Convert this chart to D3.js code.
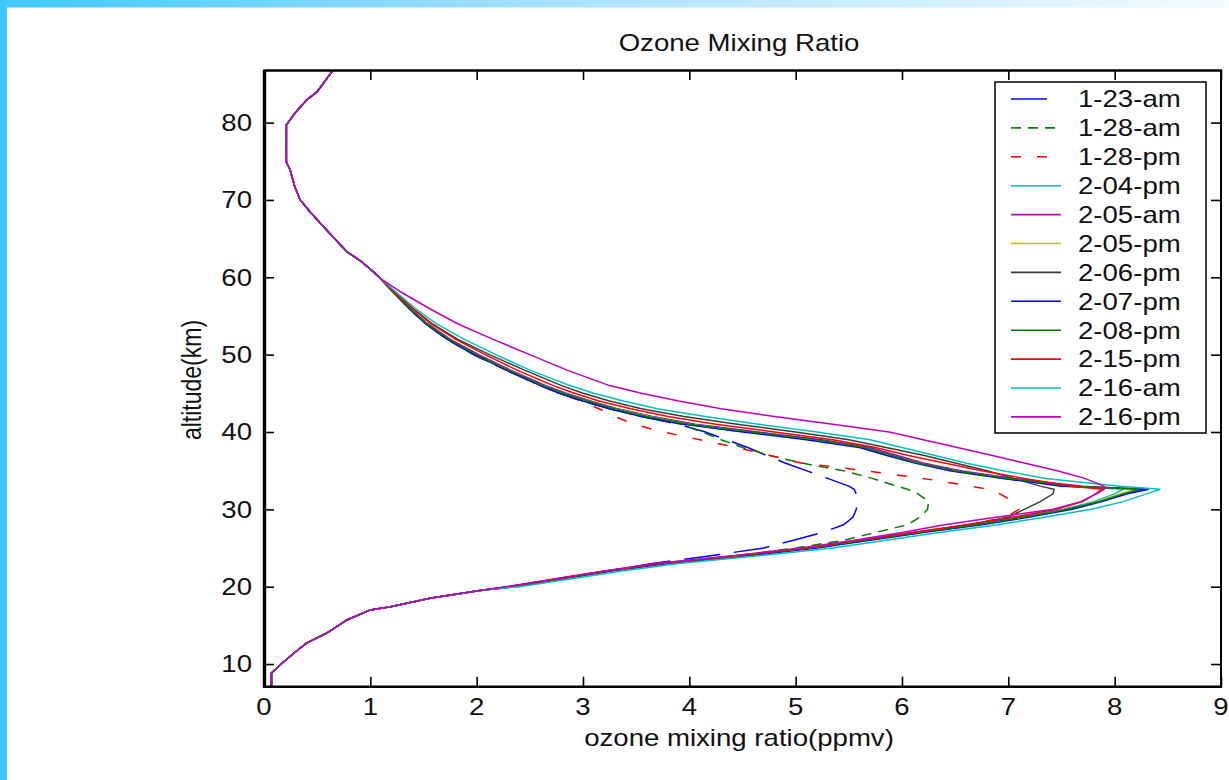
<!DOCTYPE html>
<html>
<head>
<meta charset="utf-8">
<script src="https://cdn.jsdelivr.net/npm/d3@7"></script>
<style>
  html, body { margin: 0; padding: 0; background: #ffffff; }
  svg { display: block; }
</style>
</head>
<body>
<svg id="chart" width="1229" height="780"></svg>
<script>
// ---- Ozone profile data (ppmv vs km) ----
// Troposphere / lower stratosphere, common to every sounding
const altLow   = [7.07, 8.84, 10.1, 11.4, 12.7, 14.0, 15.7, 17.0, 17.4, 18.5, 19.5];
const ozoneLow = [0.07, 0.07, 0.17, 0.28, 0.40, 0.59, 0.78, 1.00, 1.19, 1.56, 2.03];

// Stratospheric levels where the soundings differ
const altMid = [20, 21, 22, 23, 24, 25, 26, 27, 28, 29, 30, 31, 32, 32.6, 33, 34, 35, 36, 37,
                38, 39, 40, 41, 42, 43, 44, 45, 46, 48, 50, 52, 54, 56, 58];

// Mesosphere, common to every sounding
const altHigh   = [59.9, 60.7, 62.2, 63.3, 65.2, 67.0, 68.5, 70.0, 71.7, 73.9, 74.9, 79.7, 81.2, 82.9, 84.0, 86.8];
const ozoneHigh = [1.09, 1.03, 0.90, 0.78, 0.65, 0.53, 0.43, 0.34, 0.29, 0.245, 0.21, 0.21, 0.29, 0.40, 0.50, 0.65];

const seriesNames = ["1-23-am", "1-28-am", "1-28-pm", "2-04-pm", "2-05-am", "2-05-pm",
                     "2-06-pm", "2-07-pm", "2-08-pm", "2-15-pm", "2-16-am", "2-16-pm"];

const ozone_1_23_am = [2.33, 2.78, 3.22, 3.65, 4.20, 4.70, 4.98, 5.25, 5.45, 5.54, 5.57, 5.58, 5.57, 5.55, 5.50, 5.30, 5.10, 4.90, 4.72, 4.55, 4.35, 4.15, 3.90, 3.55, 3.25, 3.00, 2.78, 2.60, 2.28, 1.97, 1.72, 1.52, 1.36, 1.22];
const ozone_1_28_am = [2.33, 2.78, 3.22, 3.75, 4.45, 5.00, 5.45, 5.75, 6.05, 6.17, 6.24, 6.25, 6.15, 6.05, 5.95, 5.72, 5.45, 5.05, 4.75, 4.50, 4.30, 4.12, 3.92, 3.55, 3.25, 3.00, 2.78, 2.60, 2.28, 1.97, 1.72, 1.52, 1.36, 1.22];
const ozone_1_28_pm = [2.32, 2.77, 3.22, 3.73, 4.48, 5.12, 5.62, 6.12, 6.62, 6.98, 7.10, 7.05, 6.92, 6.80, 6.65, 6.20, 5.65, 5.05, 4.75, 4.45, 4.10, 3.75, 3.48, 3.30, 3.15, 2.98, 2.78, 2.60, 2.28, 1.97, 1.72, 1.52, 1.36, 1.22];
const ozone_2_04_pm = [2.33, 2.78, 3.22, 3.75, 4.50, 5.15, 5.65, 6.15, 6.68, 7.12, 7.52, 7.80, 8.00, 8.08, 7.60, 7.00, 6.50, 6.17, 5.90, 5.65, 5.20, 4.60, 4.05, 3.65, 3.32, 3.06, 2.84, 2.64, 2.31, 2.01, 1.74, 1.54, 1.37, 1.22];
const ozone_2_05_am = [2.30, 2.75, 3.20, 3.70, 4.45, 5.10, 5.60, 6.10, 6.65, 7.10, 7.55, 7.85, 8.10, 8.28, 7.70, 7.05, 6.55, 6.20, 5.95, 5.70, 5.25, 4.65, 4.05, 3.65, 3.32, 3.07, 2.84, 2.65, 2.32, 2.02, 1.75, 1.54, 1.37, 1.22];
const ozone_2_05_pm = [2.32, 2.77, 3.22, 3.75, 4.50, 5.15, 5.65, 6.15, 6.70, 7.15, 7.55, 7.83, 8.05, 8.20, 7.55, 6.95, 6.45, 6.15, 5.88, 5.62, 5.15, 4.55, 4.00, 3.62, 3.30, 3.05, 2.82, 2.62, 2.30, 1.99, 1.73, 1.53, 1.36, 1.22];
const ozone_2_06_pm = [2.30, 2.75, 3.20, 3.72, 4.47, 5.12, 5.62, 6.15, 6.65, 7.00, 7.15, 7.30, 7.42, 7.43, 7.30, 7.05, 6.80, 6.50, 6.20, 5.85, 5.50, 5.00, 4.45, 3.95, 3.55, 3.25, 3.00, 2.80, 2.45, 2.12, 1.82, 1.58, 1.40, 1.24];
const ozone_2_07_pm = [2.35, 2.80, 3.25, 3.80, 4.55, 5.20, 5.70, 6.20, 6.75, 7.20, 7.60, 7.88, 8.12, 8.32, 7.50, 6.95, 6.45, 6.12, 5.85, 5.60, 5.10, 4.50, 3.95, 3.55, 3.25, 3.00, 2.78, 2.60, 2.28, 1.98, 1.72, 1.52, 1.36, 1.22];
const ozone_2_08_pm = [2.33, 2.78, 3.22, 3.75, 4.50, 5.15, 5.65, 6.15, 6.70, 7.15, 7.55, 7.85, 8.08, 8.24, 7.60, 7.00, 6.50, 6.15, 5.90, 5.65, 5.20, 4.60, 4.00, 3.60, 3.30, 3.05, 2.82, 2.63, 2.30, 2.00, 1.74, 1.53, 1.37, 1.22];
const ozone_2_15_pm = [2.30, 2.75, 3.20, 3.72, 4.45, 5.10, 5.60, 6.10, 6.60, 7.05, 7.45, 7.70, 7.82, 7.88, 7.60, 7.15, 6.75, 6.40, 6.05, 5.75, 5.35, 4.80, 4.25, 3.80, 3.45, 3.15, 2.92, 2.72, 2.38, 2.08, 1.80, 1.57, 1.39, 1.23];
const ozone_2_16_am = [2.40, 2.88, 3.35, 3.90, 4.65, 5.35, 5.85, 6.35, 6.90, 7.35, 7.78, 8.08, 8.30, 8.43, 8.05, 7.35, 6.95, 6.60, 6.30, 6.00, 5.70, 5.20, 4.65, 4.15, 3.70, 3.38, 3.10, 2.88, 2.50, 2.18, 1.88, 1.62, 1.42, 1.25];
const ozone_2_16_pm = [2.28, 2.72, 3.18, 3.68, 4.40, 5.05, 5.55, 6.00, 6.40, 6.90, 7.42, 7.68, 7.83, 7.90, 7.90, 7.72, 7.46, 7.15, 6.84, 6.52, 6.20, 5.88, 5.35, 4.80, 4.30, 3.90, 3.55, 3.25, 2.85, 2.50, 2.15, 1.82, 1.55, 1.30];

const xTicks = [0, 1, 2, 3, 4, 5, 6, 7, 8, 9];
const yTicks = [10, 20, 30, 40, 50, 60, 70, 80];

const titleText  = "Ozone Mixing Ratio";
const xAxisLabel = "ozone mixing ratio(ppmv)";
const yAxisLabel = "altitude(km)";

// ---- styles ----
const seriesColors = ["#0000ff", "#008000", "#ff0000", "#00bfbf", "#bf00bf", "#bfbf00",
                      "#3c3c3c", "#0000ff", "#008000", "#ff0000", "#00bfbf", "#bf00bf"];
const seriesDash = ["36,14", "10,7", "10,16", null, null, null, null, null, null, null, null, null];

const midValues = [ozone_1_23_am, ozone_1_28_am, ozone_1_28_pm, ozone_2_04_pm, ozone_2_05_am,
                   ozone_2_05_pm, ozone_2_06_pm, ozone_2_07_pm, ozone_2_08_pm, ozone_2_15_pm,
                   ozone_2_16_am, ozone_2_16_pm];

// full profile of each sounding: shared low part + own middle part + shared high part
const profiles = seriesNames.map((name, i) => {
  const alts = altLow.concat(altMid, altHigh);
  const vals = ozoneLow.concat(midValues[i], ozoneHigh);
  return { name, color: seriesColors[i], dash: seriesDash[i],
           points: alts.map((a, k) => ({ alt: a, o3: vals[k] })) };
});

// ---- layout ----
const svg = d3.select("#chart");
const plot = { left: 264, right: 1221, top: 70, bottom: 686.7 };

const x = d3.scaleLinear().domain([0, 9]).range([plot.left, plot.right]);
const y = d3.scaleLinear().domain([7.07, 86.8]).range([plot.bottom, plot.top]);

const FONT = "'Liberation Sans', Arial, sans-serif";
const STRETCH = 1.2;

// page frame: cyan bar on the left, fading bar on top
const defs = svg.append("defs");
const grad = defs.append("linearGradient").attr("id", "topbar").attr("x1", "0").attr("x2", "1");
grad.append("stop").attr("offset", "0").attr("stop-color", "#3fc8ff");
grad.append("stop").attr("offset", "0.45").attr("stop-color", "#a8e2ff");
grad.append("stop").attr("offset", "1").attr("stop-color", "#f4fbff");
svg.append("rect").attr("x", 0).attr("y", 0).attr("width", 1229).attr("height", 7.5).attr("fill", "url(#topbar)");
svg.append("rect").attr("x", 0).attr("y", 0).attr("width", 7).attr("height", 780).attr("fill", "#3fc8ff");

defs.append("clipPath").attr("id", "plotclip").append("rect")
  .attr("x", plot.left).attr("y", plot.top)
  .attr("width", plot.right - plot.left).attr("height", plot.bottom - plot.top);

// profiles
const line = d3.line().x(d => x(d.o3)).y(d => y(d.alt));
svg.append("g").attr("clip-path", "url(#plotclip)")
  .selectAll("path").data(profiles).join("path")
  .attr("d", d => line(d.points))
  .attr("fill", "none")
  .attr("stroke", d => d.color)
  .attr("stroke-width", 1.5)
  .attr("stroke-dasharray", d => d.dash);

// inward ticks on all four sides
svg.append("g").attr("transform", `translate(0,${plot.bottom})`)
  .call(d3.axisBottom(x).tickValues(xTicks).tickSize(-10).tickFormat(""))
  .call(g => g.select(".domain").remove());
svg.append("g").attr("transform", `translate(0,${plot.top})`)
  .call(d3.axisTop(x).tickValues(xTicks).tickSize(-10).tickFormat(""))
  .call(g => g.select(".domain").remove());
svg.append("g").attr("transform", `translate(${plot.left},0)`)
  .call(d3.axisLeft(y).tickValues(yTicks).tickSize(-10).tickFormat(""))
  .call(g => g.select(".domain").remove());
svg.append("g").attr("transform", `translate(${plot.right},0)`)
  .call(d3.axisRight(y).tickValues(yTicks).tickSize(-10).tickFormat(""))
  .call(g => g.select(".domain").remove());
svg.selectAll(".tick line").attr("stroke", "#000").attr("stroke-width", 1.6);

// axis box
const box = svg.append("g").attr("stroke", "#000").attr("fill", "none");
box.append("line").attr("x1", plot.left - 0.5).attr("x2", plot.right + 1).attr("y1", plot.top + 0.5).attr("y2", plot.top + 0.5).attr("stroke-width", 2.4);
box.append("line").attr("x1", plot.left - 0.5).attr("x2", plot.right + 1).attr("y1", plot.bottom).attr("y2", plot.bottom).attr("stroke-width", 2.6);
box.append("line").attr("x1", plot.left + 0.5).attr("x2", plot.left + 0.5).attr("y1", plot.top).attr("y2", plot.bottom + 1).attr("stroke-width", 3.4);
box.append("line").attr("x1", plot.right).attr("x2", plot.right).attr("y1", plot.top).attr("y2", plot.bottom + 1).attr("stroke-width", 2);

// helper for the wide screen font
function label(parent, tx, ty, text, anchor, size, extra) {
  return parent.append("text")
    .attr("transform", `translate(${tx},${ty}) scale(${STRETCH},1)` + (extra || ""))
    .attr("text-anchor", anchor)
    .attr("font-family", FONT)
    .attr("font-size", size)
    .attr("fill", "#111")
    .text(text);
}

// tick labels
xTicks.forEach(t => label(svg, x(t), 715, String(t), "middle", 23));
yTicks.forEach(t => label(svg, 252, y(t) + 8.3, String(t), "end", 23));

// titles
label(svg, 739, 51, titleText, "middle", 23);
label(svg, 739, 746, xAxisLabel, "middle", 23);
label(svg, 201, 380, yAxisLabel, "middle", 23, " rotate(-90)");

// legend
const legend = svg.append("g");
const lg = { x: 995, y: 82, w: 211, h: 351, rowTop: 99, rowGap: 28.9 };
legend.append("rect").attr("x", lg.x).attr("y", lg.y).attr("width", lg.w).attr("height", lg.h)
  .attr("fill", "#fff").attr("stroke", "#000").attr("stroke-width", 1.5);
profiles.forEach((p, i) => {
  const cy = lg.rowTop + i * lg.rowGap;
  legend.append("line").attr("x1", 1011).attr("x2", 1061).attr("y1", cy).attr("y2", cy)
    .attr("stroke", p.color).attr("stroke-width", 1.6).attr("stroke-dasharray", p.dash);
  label(legend, 1078, cy + 8.3, p.name, "start", 23);
});
</script>
</body>
</html>
